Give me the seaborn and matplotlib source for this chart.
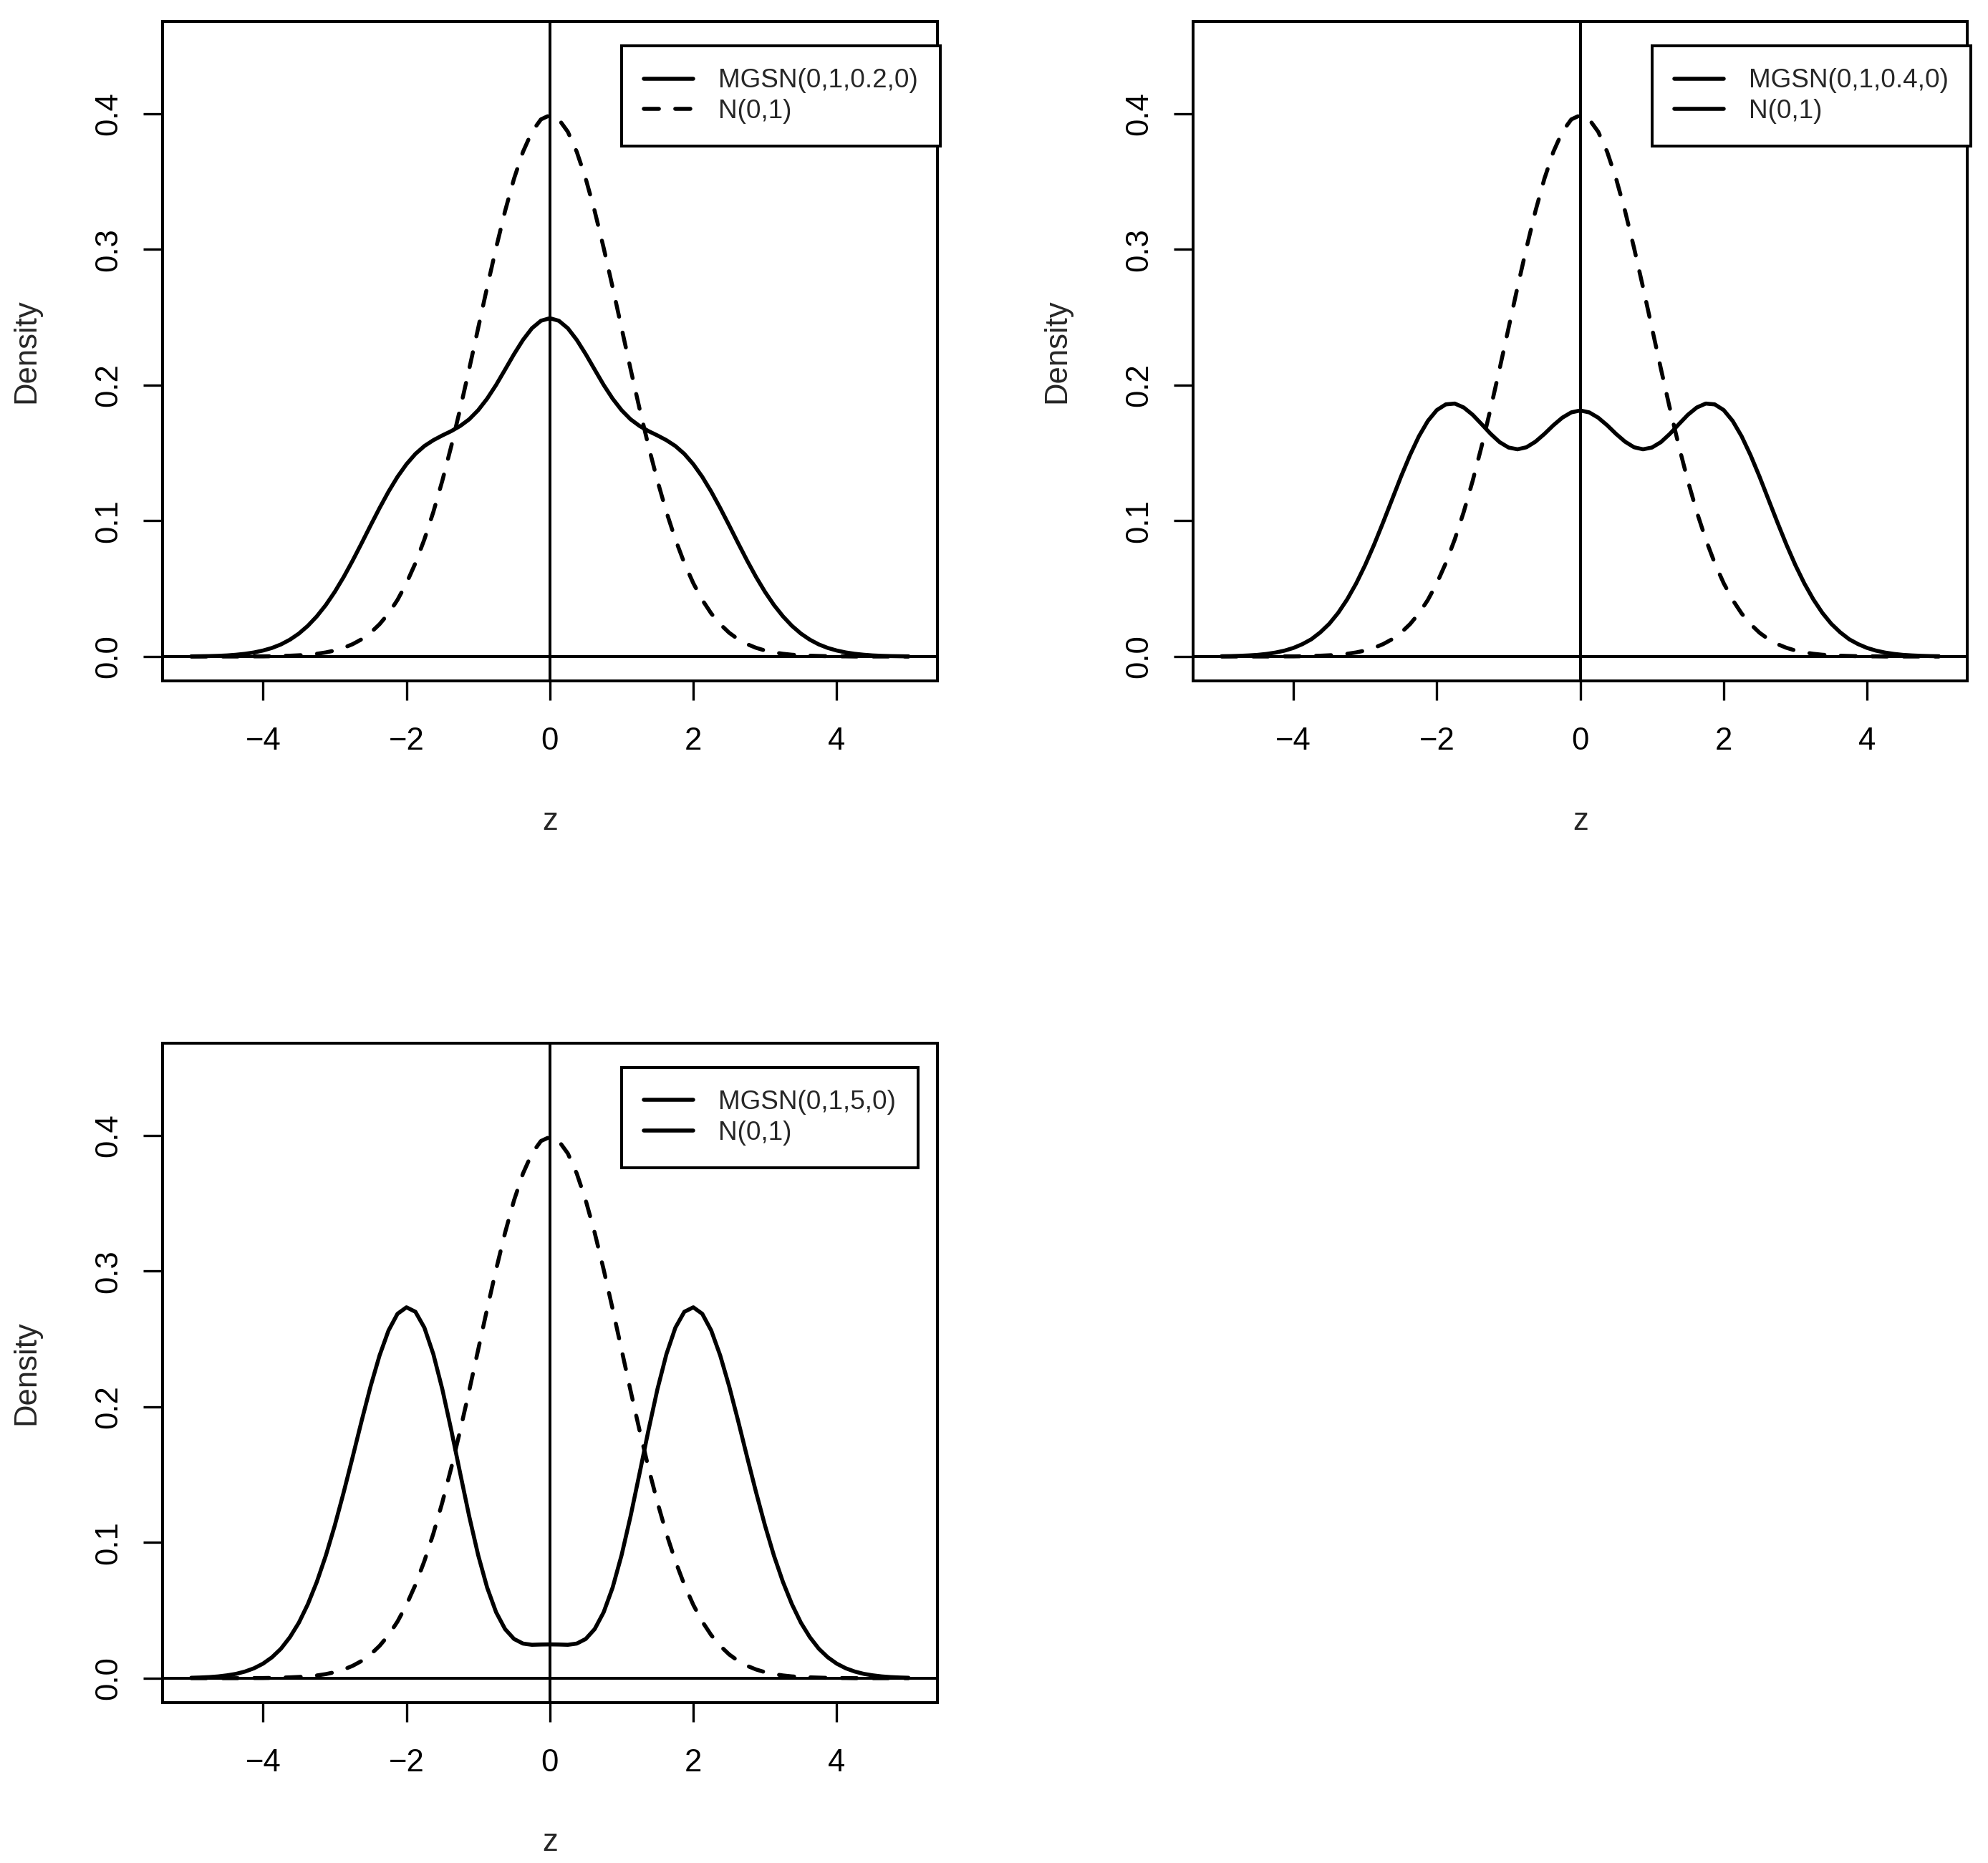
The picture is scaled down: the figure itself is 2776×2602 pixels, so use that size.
import numpy as np
import pandas as pd
import matplotlib
matplotlib.use("Agg")
import matplotlib.pyplot as plt
import seaborn as sns
from matplotlib.lines import Line2D

# grid of z values (-5 .. 5, step 0.125)
z = np.linspace(-5, 5, 81)

# standard normal density (dashed curves)
norm_01 = [
    0.0000, 0.0000, 0.0000, 0.0000, 0.0000, 0.0000, 0.0000, 0.0001, 0.0001, 0.0002,
    0.0004, 0.0006, 0.0009, 0.0013, 0.0020, 0.0030, 0.0044, 0.0064, 0.0091, 0.0127,
    0.0175, 0.0238, 0.0317, 0.0417, 0.0540, 0.0688, 0.0863, 0.1065, 0.1295, 0.1550,
    0.1827, 0.2119, 0.2420, 0.2721, 0.3011, 0.3282, 0.3521, 0.3719, 0.3867, 0.3958,
    0.3989,
    0.3958, 0.3867, 0.3719, 0.3521, 0.3282, 0.3011, 0.2721, 0.2420, 0.2119, 0.1827,
    0.1550, 0.1295, 0.1065, 0.0863, 0.0688, 0.0540, 0.0417, 0.0317, 0.0238, 0.0175,
    0.0127, 0.0091, 0.0064, 0.0044, 0.0030, 0.0020, 0.0013, 0.0009, 0.0006, 0.0004,
    0.0002, 0.0001, 0.0001, 0.0000, 0.0000, 0.0000, 0.0000, 0.0000, 0.0000, 0.0000,
]

# MGSN(0,1,0.2,0)
mgsn_02 = [
    0.0001, 0.0002, 0.0003, 0.0005, 0.0008, 0.0013, 0.0020, 0.0030, 0.0044, 0.0063,
    0.0089, 0.0124, 0.0169, 0.0226, 0.0296, 0.0379, 0.0476, 0.0586, 0.0707, 0.0835,
    0.0966, 0.1094, 0.1215, 0.1324, 0.1417, 0.1493, 0.1551, 0.1594, 0.1629, 0.1661,
    0.1699, 0.1748, 0.1815, 0.1900, 0.2001, 0.2114, 0.2228, 0.2333, 0.2419, 0.2474,
    0.2493,
    0.2474, 0.2419, 0.2333, 0.2228, 0.2114, 0.2001, 0.1900, 0.1815, 0.1748, 0.1699,
    0.1661, 0.1629, 0.1594, 0.1551, 0.1493, 0.1417, 0.1324, 0.1215, 0.1094, 0.0966,
    0.0835, 0.0707, 0.0586, 0.0476, 0.0379, 0.0296, 0.0226, 0.0169, 0.0124, 0.0089,
    0.0063, 0.0044, 0.0030, 0.0020, 0.0013, 0.0008, 0.0005, 0.0003, 0.0002, 0.0001,
]

# MGSN(0,1,0.4,0)
mgsn_04 = [
    0.0002, 0.0003, 0.0005, 0.0008, 0.0012, 0.0019, 0.0029, 0.0043, 0.0063, 0.0091,
    0.0127, 0.0178, 0.0241, 0.0322, 0.0421, 0.0538, 0.0673, 0.0824, 0.0987, 0.1156,
    0.1325, 0.1483, 0.1623, 0.1736, 0.1816, 0.1858, 0.1864, 0.1835, 0.1781, 0.1712,
    0.1641, 0.1580, 0.1540, 0.1527, 0.1542, 0.1583, 0.1640, 0.1704, 0.1760, 0.1799,
    0.1813,
    0.1799, 0.1760, 0.1704, 0.1640, 0.1583, 0.1542, 0.1527, 0.1540, 0.1580, 0.1641,
    0.1712, 0.1781, 0.1835, 0.1864, 0.1858, 0.1816, 0.1736, 0.1623, 0.1483, 0.1325,
    0.1156, 0.0987, 0.0824, 0.0673, 0.0538, 0.0421, 0.0322, 0.0241, 0.0178, 0.0127,
    0.0091, 0.0063, 0.0043, 0.0029, 0.0019, 0.0012, 0.0008, 0.0005, 0.0003, 0.0002,
]

# MGSN(0,1,5,0)
mgsn_5 = [
    0.0003, 0.0005, 0.0008, 0.0013, 0.0021, 0.0032, 0.0049, 0.0073, 0.0107, 0.0154,
    0.0217, 0.0302, 0.0409, 0.0545, 0.0709, 0.0902, 0.1124, 0.1370, 0.1630, 0.1896,
    0.2151, 0.2378, 0.2562, 0.2685, 0.2733, 0.2700, 0.2583, 0.2388, 0.2130, 0.1828,
    0.1508, 0.1193, 0.0907, 0.0668, 0.0486, 0.0362, 0.0289, 0.0255, 0.0246, 0.0248,
    0.0249,
    0.0248, 0.0246, 0.0255, 0.0289, 0.0362, 0.0486, 0.0668, 0.0907, 0.1193, 0.1508,
    0.1828, 0.2130, 0.2388, 0.2583, 0.2700, 0.2733, 0.2685, 0.2562, 0.2378, 0.2151,
    0.1896, 0.1630, 0.1370, 0.1124, 0.0902, 0.0709, 0.0545, 0.0409, 0.0302, 0.0217,
    0.0154, 0.0107, 0.0073, 0.0049, 0.0032, 0.0021, 0.0013, 0.0008, 0.0005, 0.0003,
]

panels = [
    ("MGSN(0,1,0.2,0)", mgsn_02, True),
    ("MGSN(0,1,0.4,0)", mgsn_04, False),
    ("MGSN(0,1,5,0)", mgsn_5, False),
]
x_ticks = [-4, -2, 0, 2, 4]
y_ticks = [0.0, 0.1, 0.2, 0.3, 0.4]
y_tick_labels = ["0.0", "0.1", "0.2", "0.3", "0.4"]
legend_corner = (1.0, 0.45)   # top-left corner of legend, data coords

sns.set_style("ticks")
plt.rcParams['font.family'] = ['Liberation Sans', 'DejaVu Sans']

LW = 2.0
FRAME_LW = 1.44
AX_FS = 15.7
LEG_FS = 13.3

fig = plt.figure(figsize=(13.88, 13.01), dpi=200)
rects = [
    [0.0818, 0.6345, 0.3896, 0.3540],
    [0.6001, 0.6345, 0.3896, 0.3540],
    [0.0818, 0.0861, 0.3896, 0.3540],
]

for rect, (label, dens, dashed_key) in zip(rects, panels):
    ax = fig.add_axes(rect)
    df = pd.DataFrame({"z": z, "mgsn": dens, "norm": norm_01})

    sns.lineplot(data=df, x="z", y="mgsn", ax=ax, color="black", linewidth=LW)
    l_mgsn = ax.lines[-1]
    l_mgsn.set_solid_capstyle("round")
    l_mgsn.set_solid_joinstyle("round")

    sns.lineplot(data=df, x="z", y="norm", ax=ax, color="black", linewidth=LW)
    l_norm = ax.lines[-1]
    l_norm.set_dashes((3.8, 4.1))
    l_norm.set_dash_capstyle("round")
    l_norm.set_dash_joinstyle("round")

    ax.axhline(0, color="black", lw=FRAME_LW)
    ax.axvline(0, color="black", lw=FRAME_LW)

    ax.set_xlim(-5.4, 5.4)
    ax.set_ylim(-0.018, 0.468)
    ax.set_xticks(x_ticks)
    ax.set_yticks(y_ticks)
    ax.set_yticklabels(y_tick_labels, rotation=90, va="center")
    ax.tick_params(axis="both", length=9.7, width=1.2, labelsize=AX_FS, colors="black")
    ax.tick_params(axis="x", pad=13.5)
    ax.tick_params(axis="y", pad=10)
    for sp in ax.spines.values():
        sp.set_visible(True)
        sp.set_linewidth(FRAME_LW)
        sp.set_color("black")

    ax.set_xlabel("z", fontsize=AX_FS, va="center")
    ax.set_ylabel("Density", fontsize=AX_FS, va="center")
    ax.xaxis.set_label_coords(0.5, -0.2128)
    ax.yaxis.set_label_coords(-0.1758, 0.5)

    if dashed_key:
        handles = [l_mgsn, l_norm]
    else:
        # the original legends in panels 2 and 3 show both keys solid
        handles = [Line2D([], [], color="black", lw=LW, solid_capstyle="round"),
                   Line2D([], [], color="black", lw=LW, solid_capstyle="round")]
    leg = ax.legend(handles=handles, labels=[label, "N(0,1)"],
                    loc="upper left", bbox_to_anchor=legend_corner,
                    bbox_transform=ax.transData, borderaxespad=0,
                    frameon=True, fancybox=False, framealpha=1,
                    edgecolor="black", fontsize=LEG_FS,
                    handlelength=1.85, handletextpad=0.95,
                    borderpad=0.85, labelspacing=0.2)
    leg.get_frame().set_linewidth(FRAME_LW)

fig.savefig("out.png", dpi=200, facecolor="white")
